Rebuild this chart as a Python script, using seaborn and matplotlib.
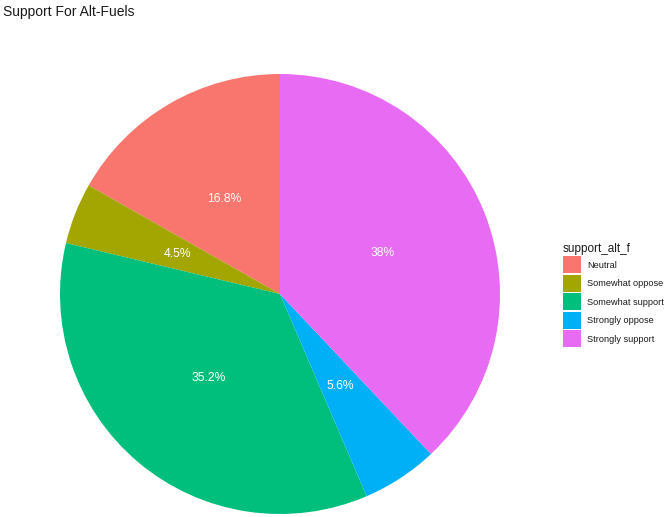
import matplotlib
matplotlib.use("Agg")
import matplotlib.pyplot as plt
import seaborn as sns
import pandas as pd

# Survey responses: share of respondents per answer (percent)
categories = ["Neutral", "Somewhat oppose", "Somewhat support", "Strongly oppose", "Strongly support"]
shares = [16.8, 4.5, 35.2, 5.6, 38]
labels = [f"{v:g}%" for v in shares]

df = pd.DataFrame({"support_alt_f": categories, "share": shares, "label": labels})

sns.set_theme(style="white")
plt.rcParams["font.family"] = ["Liberation Sans", "DejaVu Sans"]

# ggplot-style default hue palette for five levels
palette = ["#F8766D", "#A3A500", "#00BF7D", "#00B0F6", "#E76BF3"]

W, H = 665, 517
fig = plt.figure(figsize=(W / 100, H / 100), dpi=100)

cx, cy, r = 280, 294, 220
ax = fig.add_axes([(cx - r) / W, (H - cy - r) / H, 2 * r / W, 2 * r / H])

wedges, texts = ax.pie(
    df["share"],
    labels=df["label"],
    colors=palette,
    startangle=90,
    counterclock=True,
    labeldistance=0.5,
    wedgeprops={"linewidth": 0, "edgecolor": "none"},
    textprops={"color": "white", "fontsize": 8.7},
)
for t in texts:
    t.set_horizontalalignment("center")
    t.set_verticalalignment("center")

ax.set_xlim(-1, 1)
ax.set_ylim(-1, 1)
ax.set_aspect("equal")
ax.axis("off")

fig.text(3 / W, 1 - 12 / H, "Support For Alt-Fuels", fontsize=10, va="center", ha="left", color="#1a1a1a")

leg = fig.legend(
    wedges,
    df["support_alt_f"],
    title="support_alt_f",
    loc="upper left",
    bbox_to_anchor=(563 / W, 1 - 243 / H),
    frameon=False,
    fontsize=6.6,
    title_fontsize=8.5,
    handlelength=1.96,
    handleheight=2.48,
    handletextpad=0.7,
    labelspacing=0.16,
    borderpad=0,
    borderaxespad=0,
    alignment="left",
)
for txt in leg.get_texts():
    txt.set_color("#1a1a1a")
leg.get_title().set_color("#1a1a1a")

fig.savefig("out.png", dpi=100)
